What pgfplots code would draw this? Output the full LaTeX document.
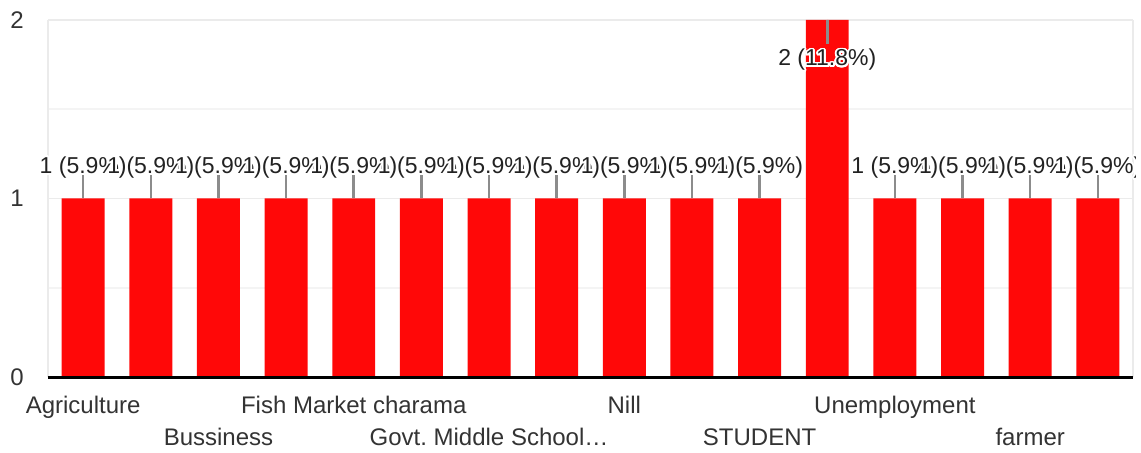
\documentclass[border=0pt]{standalone}
\usepackage{fontspec}
\setmainfont{Liberation Sans}
\usepackage{pgfplots}
\usepackage{pgfplotstable}
\usepackage{contour}
\pgfplotsset{compat=1.18}
\contourlength{1.8pt}
\contournumber{24}
\frenchspacing

\definecolor{barred}{HTML}{FF0808}
\definecolor{ticktxt}{HTML}{333333}
\definecolor{labtxt}{HTML}{222222}
\definecolor{leader}{HTML}{8C8C8C}
\definecolor{gridmajor}{HTML}{EBEBEB}
\definecolor{gridminor}{HTML}{F4F4F4}
\definecolor{baseline}{HTML}{333333}

% x, count, label baseline offset (bp), leader up/down (axis units), label
\pgfplotstableread[col sep=comma]{
x,y,off,ep,em,lab
0,1,25,0.129,0,1 (5.9\%)
1,1,25,0.129,0,1 (5.9\%)
2,1,25,0.129,0,1 (5.9\%)
3,1,25,0.129,0,1 (5.9\%)
4,1,25,0.129,0,1 (5.9\%)
5,1,25,0.129,0,1 (5.9\%)
6,1,25,0.129,0,1 (5.9\%)
7,1,25,0.129,0,1 (5.9\%)
8,1,25,0.129,0,1 (5.9\%)
9,1,25,0.129,0,1 (5.9\%)
10,1,25,0.129,0,1 (5.9\%)
11,2,-46,0,0.134,2 (11.8\%)
12,1,25,0.129,0,1 (5.9\%)
13,1,25,0.129,0,1 (5.9\%)
14,1,25,0.129,0,1 (5.9\%)
15,1,25,0.129,0,1 (5.9\%)
}\occ

\begin{document}
\begin{tikzpicture}
\useasboundingbox (-48bp,-76bp) rectangle (1093bp,377bp);
\clip (-48bp,-76bp) rectangle (1087bp,377bp);
\begin{axis}[
    at={(0,0)}, anchor=south west,
    scale only axis, width=1085bp, height=357bp,
    xmin=-0.52, xmax=15.52, ymin=0, ymax=2,
    clip=false,
    axis line style={draw=none},
    major tick length=0pt, minor tick length=0pt,
    ytick={0,1,2}, minor ytick={0.5,1.5},
    ymajorgrids, yminorgrids,
    major grid style={draw=gridmajor, line width=1.5bp},
    minor grid style={draw=gridminor, line width=1.5bp},
    /pgf/number format/assume math mode=true,
    tick label style={font=\fontsize{24bp}{28bp}\selectfont, text=ticktxt, inner sep=0pt},
    yticklabel style={anchor=east, xshift=-24bp},
    xtick={0,4,8,12},
    xticklabels={Agriculture, Fish Market charama, Nill, Unemployment},
    xticklabel style={anchor=base, yshift=-36bp},
    extra x ticks={2,6,10,14},
    extra x tick labels={Bussiness, Govt. Middle School…, STUDENT, farmer},
    extra x tick style={tick label style={yshift=-32bp}},
]
\addplot[ybar, bar width=0.635, fill=barred, draw=none,
    point meta=explicit symbolic,
    visualization depends on={\thisrow{off} \as \myoff},
    nodes near coords={\contour{white}{\pgfplotspointmeta}},
    every node near coord/.append style={font=\fontsize{23bp}{26bp}\selectfont,
        text=labtxt, inner sep=0pt, anchor=base, yshift=\myoff bp},
    error bars/.cd, y dir=both, y explicit, error mark=none,
    error bar style={draw=leader, line width=2.6bp}]
    table[x=x, y=y, meta=lab, y error plus=ep, y error minus=em]{\occ};

\draw[gridmajor, line width=1.5bp] (rel axis cs:0,0) -- (rel axis cs:0,1);
\draw[gridmajor, line width=1.5bp] (rel axis cs:1,0) -- (rel axis cs:1,1);
\draw[baseline, line width=3bp] (rel axis cs:0,0) -- (rel axis cs:1,0);
\end{axis}
\end{tikzpicture}
\end{document}
